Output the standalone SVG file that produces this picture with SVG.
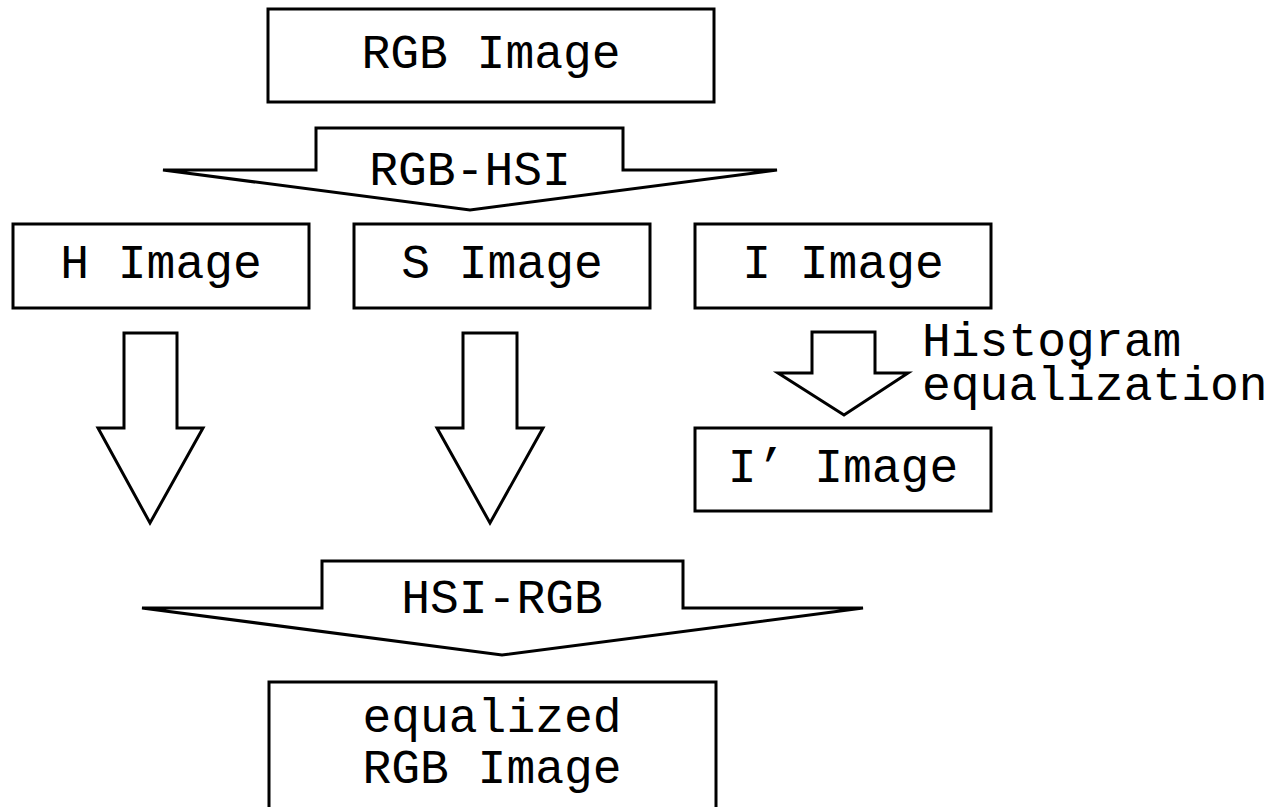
<svg xmlns="http://www.w3.org/2000/svg" width="1275" height="807" viewBox="0 0 1275 807">
<style>
.box{fill:#fff;stroke:#000;stroke-width:3}
.arr{fill:#fff;stroke:#000;stroke-width:3;stroke-linejoin:miter}
text{font-family:"Liberation Mono","Courier New",monospace;font-size:48px;fill:#000}
.c{text-anchor:middle}
</style>
<rect width="1275" height="807" fill="#fff"/>
<g id="connectors">
<polygon class="arr" points="316,128 623,128 623,170 777,170 470,210 163,170 316,170"/>
<text class="c" x="470" y="185">RGB-HSI</text>
<polygon class="arr" points="124,333 177,333 177,428 203,428 150,523 98,428 124,428"/>
<polygon class="arr" points="463,333 517,333 517,428 543,428 490,523 437,428 463,428"/>
<polygon class="arr" points="812,332 875,332 875,373 908,373 844,415 778,373 812,373"/>
<text x="922" y="356">Histogram</text>
<text x="922" y="400">equalization</text>
<polygon class="arr" points="322,561 683,561 683,608 863,608 502,655 142,608 322,608"/>
<text class="c" x="502" y="613">HSI-RGB</text>
</g>
<g id="rgb">
<rect class="box" x="268" y="9" width="446" height="93"/>
<text class="c" x="491" y="68">RGB Image</text>
</g>
<g id="h">
<rect class="box" x="13" y="224" width="296" height="84"/>
<text class="c" x="161" y="278">H Image</text>
</g>
<g id="s">
<rect class="box" x="354" y="224" width="296" height="84"/>
<text class="c" x="502" y="278">S Image</text>
</g>
<g id="i">
<rect class="box" x="695" y="224" width="296" height="84"/>
<text class="c" x="843" y="278">I Image</text>
</g>
<g id="iprime">
<rect class="box" x="695" y="428" width="296" height="83"/>
<text class="c" x="843" y="482">I’ Image</text>
</g>
<g id="equalized">
<rect class="box" x="269" y="682" width="447" height="150"/>
<text class="c" x="492" y="732">equalized</text>
<text class="c" x="492" y="783">RGB Image</text>
</g>
</svg>
